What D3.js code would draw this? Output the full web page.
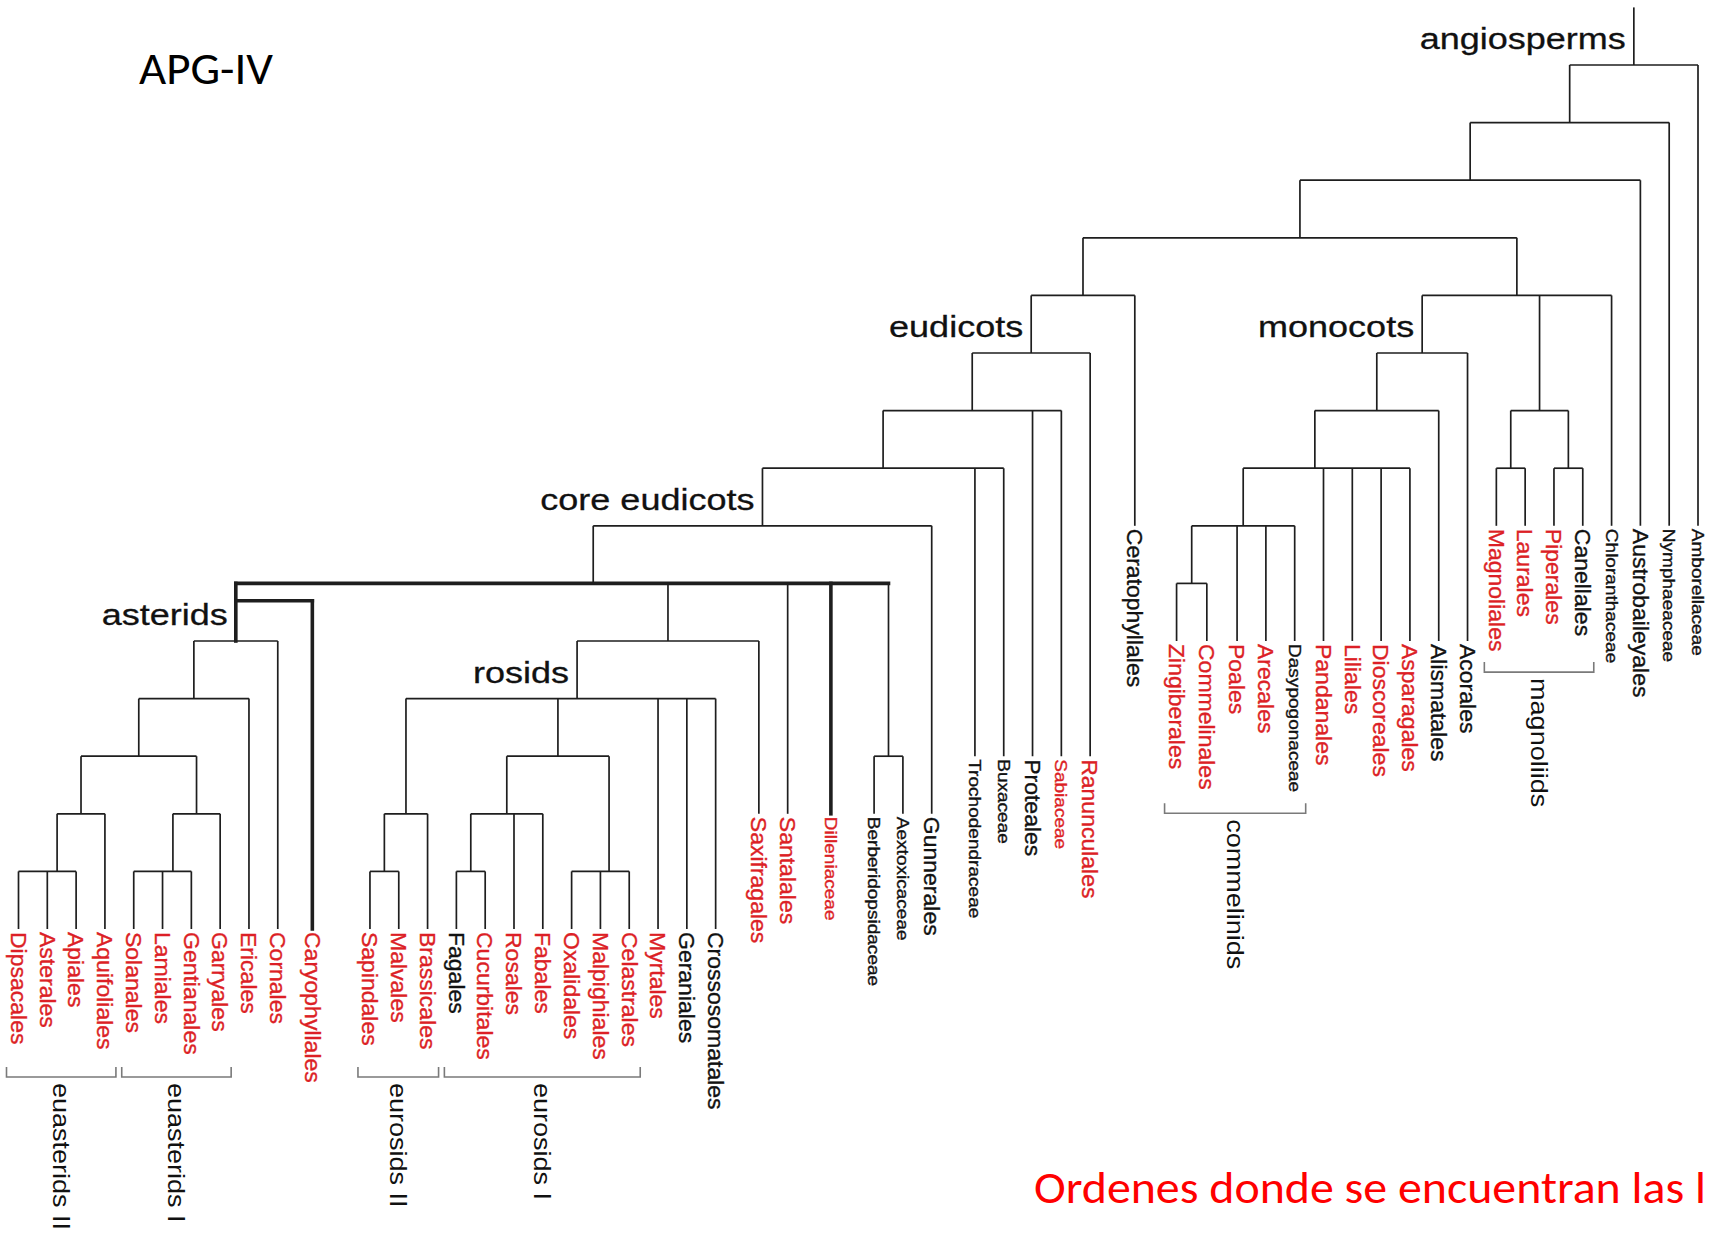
<!DOCTYPE html>
<html lang="es">
<head>
<meta charset="UTF-8">
<title>APG-IV</title>
<script src="https://cdn.jsdelivr.net/npm/d3@7"></script>
<style>
  body { margin: 0; background: #fff; }
  svg { display: block; }
</style>
</head>
<body>
<svg id="tree"></svg>
<script>
// internal clades: id, parent, level (depth step of the horizontal bar)
const cladeIds     = ['root','n2','n3','n4','n5e','eudicots','n7','n8','coreEudicots','pent','asterids','a12','a13','euII','d15','euI','s15','rosSax','rosids','rII','r15','rI','f14','f15','o15','berb','n5m','monocots','m7','m8','commelinids','m10','magnoliids','g8a','g8b'];
const cladeParents = [null,'root','n2','n3','n4','n5e','eudicots','n7','n8','coreEudicots','pent','asterids','a12','a13','euII','a13','euI','pent','rosSax','rosids','rII','rosids','rI','f14','rI','pent','n4','n5m','monocots','m7','m8','commelinids','n5m','magnoliids','magnoliids'];
const cladeLevels  = [1,2,3,4,5,6,7,8,9,10,11,12,13,14,15,14,15,11,12,14,15,13,14,15,15,13,5,6,7,8,9,10,7,8,8];

// named clades
const namedIds    = ['root','eudicots','monocots','coreEudicots','asterids','rosids'];
const namedLabels = ['angiosperms','eudicots','monocots','core eudicots','asterids','rosids'];

// orders / families (tips)
const orders = ['Dipsacales','Asterales','Apiales','Aquifoliales','Solanales','Lamiales','Gentianales','Garryales','Ericales','Cornales','Caryophyllales','Sapindales','Malvales','Brassicales','Fagales','Cucurbitales','Rosales','Fabales','Oxalidales','Malpighiales','Celastrales','Myrtales','Geraniales','Crossosomatales','Saxifragales','Santalales','Dilleniaceae','Berberidopsidaceae','Aextoxicaceae','Gunnerales','Trochodendraceae','Buxaceae','Proteales','Sabiaceae','Ranunculales','Ceratophyllales','Zingiberales','Commelinales','Poales','Arecales','Dasypogonaceae','Pandanales','Liliales','Dioscoreales','Asparagales','Alismatales','Acorales','Magnoliales','Laurales','Piperales','Canellales','Chloranthaceae','Austrobaileyales','Nymphaeaceae','Amborellaceae'];
const orderParents = ['d15','d15','d15','euII','s15','s15','s15','euI','a12','asterids','asterids','r15','r15','rII','f15','f15','f14','f14','o15','o15','o15','rosids','rosids','rosids','rosSax','pent','pent','berb','berb','coreEudicots','n8','n8','n7','n7','eudicots','n5e','m10','m10','commelinids','commelinids','commelinids','m8','m8','m8','m8','m7','monocots','g8a','g8a','g8b','g8b','n5m','n3','n2','root'];
const orderSlots = [0,1,2,3,4,5,6,7,8,9,10.2,12.2,13.2,14.2,15.2,16.2,17.2,18.2,19.2,20.2,21.2,22.2,23.2,24.2,25.7,26.7,28.2,29.7,30.7,31.7,33.2,34.2,35.2,36.2,37.2,38.75,40.2,41.25,42.3,43.3,44.3,45.3,46.3,47.3,48.3,49.3,50.3,51.3,52.3,53.3,54.3,55.3,56.3,57.3,58.3];
const orderTips  = [16,16,16,16,16,16,16,16,16,16,16,16,16,16,16,16,16,16,16,16,16,16,16,16,14,14,14,14,14,14,13,13,13,13,13,9,11,11,11,11,11,11,11,11,11,11,11,9,9,9,9,9,9,9,9];

// orders highlighted in red
const redOrders = ['Dipsacales','Asterales','Apiales','Aquifoliales','Solanales','Lamiales','Gentianales','Garryales','Ericales','Cornales','Caryophyllales','Sapindales','Malvales','Brassicales','Cucurbitales','Rosales','Fabales','Oxalidales','Malpighiales','Celastrales','Myrtales','Saxifragales','Santalales','Dilleniaceae','Sabiaceae','Ranunculales','Zingiberales','Commelinales','Poales','Arecales','Pandanales','Liliales','Dioscoreales','Asparagales','Magnoliales','Laurales','Piperales'];
// families written in the small type
const smallTips = ['Dilleniaceae','Berberidopsidaceae','Aextoxicaceae','Trochodendraceae','Buxaceae','Sabiaceae','Dasypogonaceae','Chloranthaceae','Nymphaeaceae','Amborellaceae'];

// stems not centred over their bar (slot units)
const shiftIds   = ['d15','s15','o15','rosids','pent','m8'];
const shiftSlots = [1.34, 5.36, 20.5, 19.39, 19.95, 45.0];

// hand-drawn edits: branch attached higher up, thick strokes
const attachIds    = ['Caryophyllales'];
const attachLevels = [10.3];
const thickStems = ['asterids','Caryophyllales','Dilleniaceae'];
const thickBars  = ['pent'];

// informal groups (brackets under the tips)
const groupNames = ['euasterids II','euasterids I','eurosids II','eurosids I','commelinids','magnoliids'];
const groupFirst = ['Dipsacales','Solanales','Sapindales','Fagales','Zingiberales','Magnoliales'];
const groupLast  = ['Aquifoliales','Garryales','Brassicales','Celastrales','Dasypogonaceae','Canellales'];
const groupLevel = [18.57, 18.57, 18.57, 18.57, 13.99, 11.54];

const width = 1711, height = 1234;
const svg = d3.select('#tree').attr('width', width).attr('height', height);
svg.append('rect').attr('width', width).attr('height', height).attr('fill', '#fff');

const x = d3.scaleLinear().domain([0, 58.3]).range([18.5, 1698]);
const y = d3.scaleLinear().domain([0, 16]).range([7.4, 929]);

const rows = cladeIds.map((id, i) => ({id, parentId: cladeParents[i], level: cladeLevels[i]}))
  .concat(orders.map((id, i) => ({id, parentId: orderParents[i], level: orderTips[i], slot: orderSlots[i]})));
const root = d3.stratify().id(d => d.id).parentId(d => d.parentId)(rows);

// x of every node: tips from slots, clades centred over their bar
root.eachAfter(n => {
  if (!n.children) { n.px = x(n.data.slot); return; }
  const k = shiftIds.indexOf(n.id);
  if (k >= 0) { n.px = x(shiftSlots[k]); return; }
  const xs = n.children.filter(c => !attachIds.includes(c.id)).map(c => c.px);
  n.px = (d3.min(xs) + d3.max(xs)) / 2;
});

const segs = [];
segs.push({x1: root.px, y1: y(0), x2: root.px, y2: y(1), thick: false});
root.each(n => {
  if (n.children) {
    const xs = n.children.filter(c => !attachIds.includes(c.id)).map(c => c.px);
    segs.push({x1: d3.min(xs), y1: y(n.data.level), x2: d3.max(xs), y2: y(n.data.level), thick: thickBars.includes(n.id)});
  }
  if (n.parent) {
    const a = attachIds.indexOf(n.id);
    const top = a >= 0 ? y(attachLevels[a]) : y(n.parent.data.level);
    if (a >= 0) segs.push({x1: n.parent.px, y1: top, x2: n.px, y2: top, thick: true});
    segs.push({x1: n.px, y1: top, x2: n.px, y2: y(n.data.level), thick: thickStems.includes(n.id)});
  }
});

svg.append('g').selectAll('line').data(segs).join('line')
  .attr('x1', d => d.x1).attr('y1', d => d.y1)
  .attr('x2', d => d.x2).attr('y2', d => d.y2)
  .attr('stroke', '#1e1e1e')
  .attr('stroke-width', d => d.thick ? 3.6 : 1.7)
  .attr('stroke-linecap', d => d.thick ? 'square' : 'butt');

const sans = '"Liberation Sans", Arial, sans-serif';
function stretch(sel, f) {
  sel.each(function() {
    const len = this.getComputedTextLength();
    this.setAttribute('textLength', len * f);
    this.setAttribute('lengthAdjust', 'spacingAndGlyphs');
  });
}

// tip labels
const tips = svg.append('g').selectAll('text').data(root.leaves()).join('text')
  .attr('transform', d => `translate(${d.px},${y(d.data.level) + 3}) rotate(90)`)
  .attr('dy', '0.35em')
  .attr('font-family', sans)
  .attr('font-size', d => smallTips.includes(d.id) ? 17 : 22)
  .attr('fill', d => redOrders.includes(d.id) ? '#dc1f26' : '#111')
  .attr('stroke', d => redOrders.includes(d.id) ? '#dc1f26' : '#111')
  .attr('stroke-width', 0.35)
  .text(d => d.id);
tips.each(function(d) {
  const len = this.getComputedTextLength();
  this.setAttribute('textLength', len * (smallTips.includes(d.id) ? 1.12 : 1.045));
  this.setAttribute('lengthAdjust', 'spacingAndGlyphs');
});

// clade names, left of their stem
const named = root.descendants().filter(n => namedIds.includes(n.id));
svg.append('g').selectAll('text').data(named).join('text')
  .attr('font-family', sans)
  .attr('font-size', 30)
  .attr('fill', '#111')
  .attr('stroke', '#111')
  .attr('stroke-width', 0.3)
  .attr('y', d => y(d.data.level) - 16)
  .text(d => namedLabels[namedIds.indexOf(d.id)])
  .each(function(d) {
    const len = this.getComputedTextLength() * 1.2;
    this.setAttribute('textLength', len);
    this.setAttribute('lengthAdjust', 'spacingAndGlyphs');
    this.setAttribute('x', d.px - 8 - len);
  });

// brackets
const byId = new Map(root.leaves().map(n => [n.id, n]));
const groups = groupNames.map((name, i) => ({
  name,
  x1: byId.get(groupFirst[i]).px - 12,
  x2: byId.get(groupLast[i]).px + 11,
  yb: y(groupLevel[i])
}));
svg.append('g').selectAll('path').data(groups).join('path')
  .attr('d', d => `M${d.x1},${d.yb - 10}V${d.yb}H${d.x2}V${d.yb - 10}`)
  .attr('fill', 'none')
  .attr('stroke', '#7a7a7a')
  .attr('stroke-width', 1.6);
const glabels = svg.append('g').selectAll('text').data(groups).join('text')
  .attr('transform', d => `translate(${(d.x1 + d.x2) / 2},${d.yb + 6}) rotate(90)`)
  .attr('dy', '0.35em')
  .attr('font-family', sans)
  .attr('font-size', 24)
  .attr('fill', '#111')
  .text(d => d.name);
stretch(glabels, 1.125);

// title and note
svg.append('text')
  .attr('x', 139).attr('y', 84)
  .attr('font-family', 'Carlito, Calibri, Lato, sans-serif')
  .attr('font-size', 46)
  .attr('fill', '#000')
  .attr('textLength', 134).attr('lengthAdjust', 'spacingAndGlyphs')
  .text('APG-IV');
svg.append('text')
  .attr('x', 1034).attr('y', 1203)
  .attr('font-family', 'Carlito, Calibri, Lato, sans-serif')
  .attr('font-size', 46)
  .attr('fill', '#ff0000')
  .attr('textLength', 672).attr('lengthAdjust', 'spacingAndGlyphs')
  .text('Ordenes donde se encuentran las l');
</script>
</body>
</html>
